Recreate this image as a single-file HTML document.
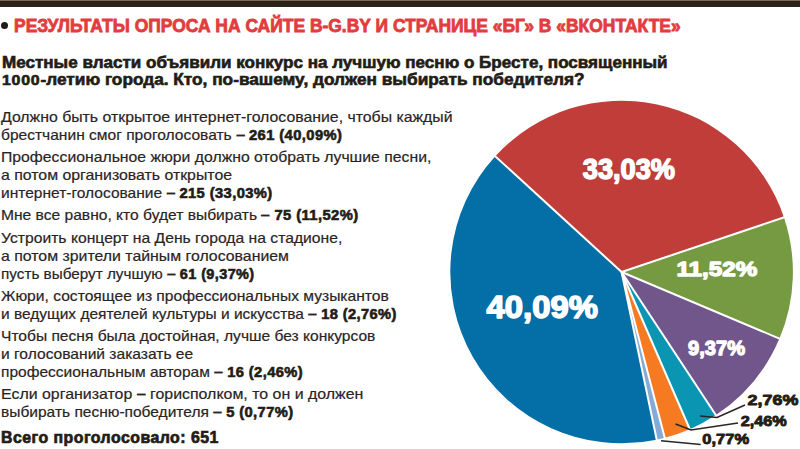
<!DOCTYPE html>
<html><head><meta charset="utf-8">
<style>
html,body{margin:0;padding:0;background:#fff;}
body{width:800px;height:449px;position:relative;overflow:hidden;font-family:"Liberation Sans",sans-serif;}
.bar{position:absolute;left:0;top:0;width:800px;height:6.7px;background:linear-gradient(#7a6b58 0px,#7a6b58 0.8px,#2a1f14 1.3px,#2c2318 6.7px);}
.bullet{position:absolute;left:0.7px;top:21.8px;width:7.6px;height:7.6px;border-radius:50%;background:#231c16;}
.ln{position:absolute;white-space:nowrap;line-height:1;transform-origin:0 0;}
.body{color:#2a241f;-webkit-text-stroke:0.2px #2a241f;}
.body b{font-size:14.2px;letter-spacing:0.4px;color:#231c16;-webkit-text-stroke:0.6px #231c16;}
.sub{color:#231c16;font-weight:bold;-webkit-text-stroke:0.6px #231c16;}
.hd{color:#e23c3f;font-weight:bold;-webkit-text-stroke:0.8px #e23c3f;}
.pie{position:absolute;left:0;top:0;}
.tot b{font-size:inherit;letter-spacing:0.5px;}
.dg{font-size:14.4px;letter-spacing:0.7px;}
.d{font-weight:bold;display:inline-block;transform:scaleX(1.08);}
.tot b{-webkit-text-stroke:0.7px #231c16;}
</style></head><body>
<div class="bar"></div>
<div class="bullet"></div>
<svg class="pie" width="800" height="449" viewBox="0 0 800 449">
<path d="M621.60,272.00 L495.30,156.27 A171.3,171.3 0 0 1 783.96,217.38 Z" fill="#c03d39"/><path d="M621.60,272.00 L783.96,217.38 A171.3,171.3 0 0 1 779.42,338.60 Z" fill="#759a42"/><path d="M621.60,272.00 L779.42,338.60 A171.3,171.3 0 0 1 715.87,415.03 Z" fill="#71568b"/><path d="M621.60,272.00 L715.87,415.03 A171.3,171.3 0 0 1 689.77,429.15 Z" fill="#0a96b3"/><path d="M621.60,272.00 L689.77,429.15 A171.3,171.3 0 0 1 664.77,437.77 Z" fill="#f67a22"/><path d="M621.60,272.00 L664.77,437.77 A171.3,171.3 0 0 1 656.70,439.67 Z" fill="#86aad6"/><path d="M621.60,272.00 L656.70,439.67 A171.3,171.3 0 0 1 495.30,156.27 Z" fill="#046ea6"/>
<line x1="621.60" y1="272.00" x2="493.83" y2="154.92" stroke="#fff" stroke-width="2.0"/><line x1="621.60" y1="272.00" x2="785.86" y2="216.75" stroke="#fff" stroke-width="2.0"/><line x1="621.60" y1="272.00" x2="781.26" y2="339.38" stroke="#fff" stroke-width="2.0"/><line x1="621.60" y1="272.00" x2="716.97" y2="416.70" stroke="#fff" stroke-width="2.0"/><line x1="621.60" y1="272.00" x2="690.57" y2="430.98" stroke="#fff" stroke-width="2.0"/><line x1="621.60" y1="272.00" x2="665.27" y2="439.71" stroke="#fff" stroke-width="2.0"/><line x1="621.60" y1="272.00" x2="657.11" y2="441.62" stroke="#fff" stroke-width="2.0"/>
<polyline points="745,405 717,417.5 700,416" fill="none" stroke="#2b2520" stroke-width="1.5"/><polyline points="738,423 691,430 675.5,424" fill="none" stroke="#2b2520" stroke-width="1.5"/><polyline points="700.7,444.4 661,440.7" fill="none" stroke="#2b2520" stroke-width="1.5"/>
<g font-family="Liberation Sans" font-weight="bold" stroke-linejoin="round"><text x="582.8" y="179.3" font-size="29.2" fill="#fff" stroke="#fff" stroke-width="1.5" textLength="92.2" lengthAdjust="spacingAndGlyphs">33,03%</text><text x="486.6" y="317.6" font-size="30.5" fill="#fff" stroke="#fff" stroke-width="1.5" textLength="111.2" lengthAdjust="spacingAndGlyphs">40,09%</text><text x="676.5" y="275.75" font-size="20.8" fill="#fff" stroke="#fff" stroke-width="1.3" textLength="80.7" lengthAdjust="spacingAndGlyphs">11,52%</text><text x="688.1" y="355" font-size="20.8" fill="#fff" stroke="#fff" stroke-width="1.3" textLength="56.9" lengthAdjust="spacingAndGlyphs">9,37%</text><text x="747.6" y="405.3" font-size="15.5" fill="#231c16" stroke="#231c16" stroke-width="0.9" textLength="50.7" lengthAdjust="spacingAndGlyphs">2,76%</text><text x="740.7" y="426.1" font-size="15.5" fill="#231c16" stroke="#231c16" stroke-width="0.9" textLength="46.1" lengthAdjust="spacingAndGlyphs">2,46%</text><text x="702.3" y="443.8" font-size="15.5" fill="#231c16" stroke="#231c16" stroke-width="0.9" textLength="46.8" lengthAdjust="spacingAndGlyphs">0,77%</text></g>
</svg>
<div class="ln body" id="b0" style="left:0.50px;top:109.00px;font-size:15.0px;transform:scaleX(1.0556)">Должно быть открытое интернет-голосование, чтобы каждый</div>
<div class="ln body" id="b1" style="left:0.50px;top:127.00px;font-size:15.0px;transform:scaleX(1.0370)">брестчанин смог проголосовать <span class='d'>–</span> <b>261 (40,09%)</b></div>
<div class="ln body" id="b2" style="left:0.50px;top:149.00px;font-size:15.0px;transform:scaleX(1.0512)">Профессиональное жюри должно отобрать лучшие песни,</div>
<div class="ln body" id="b3" style="left:0.50px;top:167.00px;font-size:15.0px;transform:scaleX(1.0564)">а потом организовать открытое</div>
<div class="ln body" id="b4" style="left:0.50px;top:185.00px;font-size:15.0px;transform:scaleX(1.0355)">интернет-голосование <span class='d'>–</span> <b>215 (33,03%)</b></div>
<div class="ln body" id="b5" style="left:0.50px;top:207.00px;font-size:15.0px;transform:scaleX(1.0395)">Мне все равно, кто будет выбирать <span class='d'>–</span> <b>75 (11,52%)</b></div>
<div class="ln body" id="b6" style="left:0.50px;top:230.00px;font-size:15.0px;transform:scaleX(1.0461)">Устроить концерт на День города на стадионе,</div>
<div class="ln body" id="b7" style="left:0.50px;top:248.00px;font-size:15.0px;transform:scaleX(1.0570)">а потом зрители тайным голосованием</div>
<div class="ln body" id="b8" style="left:0.50px;top:266.00px;font-size:15.0px;transform:scaleX(1.0185)">пусть выберут лучшую <span class='d'>–</span> <b>61 (9,37%)</b></div>
<div class="ln body" id="b9" style="left:0.50px;top:288.00px;font-size:15.0px;transform:scaleX(1.0408)">Жюри, состоящее из профессиональных музыкантов</div>
<div class="ln body" id="b10" style="left:0.50px;top:306.00px;font-size:15.0px;transform:scaleX(1.0309)">и ведущих деятелей культуры и искусства <span class='d'>–</span> <b>18 (2,76%)</b></div>
<div class="ln body" id="b11" style="left:0.50px;top:328.00px;font-size:15.0px;transform:scaleX(1.0380)">Чтобы песня была достойная, лучше без конкурсов</div>
<div class="ln body" id="b12" style="left:0.50px;top:346.00px;font-size:15.0px;transform:scaleX(1.0387)">и голосований заказать ее</div>
<div class="ln body" id="b13" style="left:0.50px;top:364.00px;font-size:15.0px;transform:scaleX(1.0344)">профессиональным авторам <span class='d'>–</span> <b>16 (2,46%)</b></div>
<div class="ln body" id="b14" style="left:0.50px;top:386.00px;font-size:15.0px;transform:scaleX(1.0610)">Если организатор <span class='d'>–</span> горисполком, то он и должен</div>
<div class="ln body" id="b15" style="left:0.50px;top:404.00px;font-size:15.0px;transform:scaleX(1.0348)">выбирать песню-победителя <span class='d'>–</span> <b>5 (0,77%)</b></div>
<div class="ln body tot" id="tot" style="left:0.50px;top:430.00px;font-size:16px;transform:scaleX(0.9906)"><b>Всего проголосовало: 651</b></div>
<div class="ln sub" id="s1" style="left:1.50px;top:55.00px;font-size:15.6px;transform:scaleX(1.0940)">Местные власти объявили конкурс на лучшую песню о Бресте, посвященный</div>
<div class="ln sub" id="s2" style="left:1.50px;top:72.00px;font-size:15.6px;transform:scaleX(1.1057)"><span class="dg">1000</span>-летию города. Кто, по-вашему, должен выбирать победителя?</div>
<div class="ln hd" id="hd" style="left:14.00px;top:18.00px;font-size:17.5px;transform:scaleX(0.9972)">РЕЗУЛЬТАТЫ ОПРОСА НА САЙТЕ B-G.BY И СТРАНИЦЕ «БГ» В «ВКОНТАКТЕ»</div>
</body></html>
